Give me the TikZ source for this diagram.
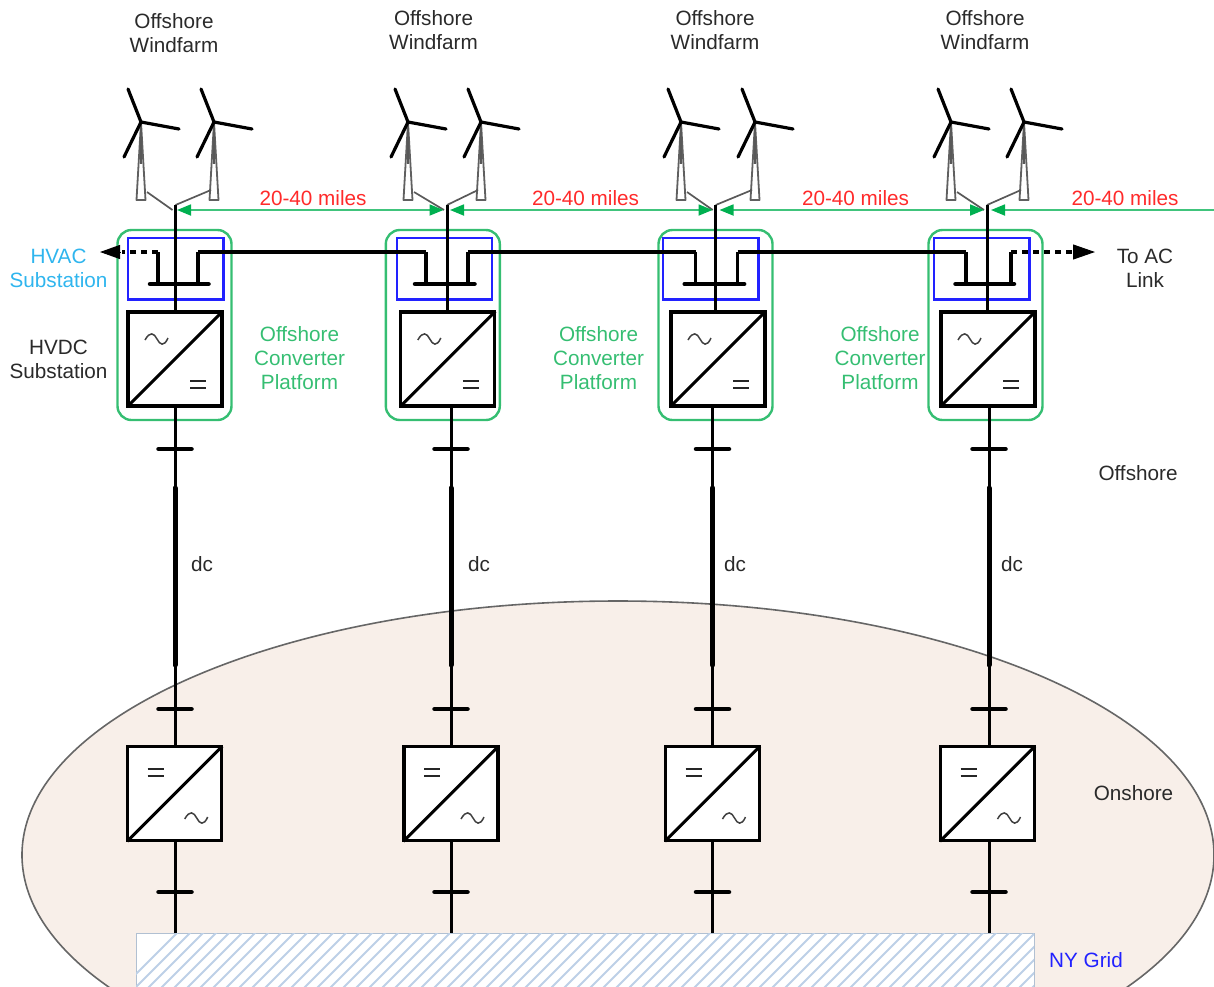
\documentclass[tikz,border=0pt]{standalone}
\usepackage{fontspec}
\setmainfont{Liberation Sans}
\usetikzlibrary{arrows.meta}
\definecolor{gbox}{HTML}{35BE72}
\definecolor{garr}{HTML}{00B050}
\definecolor{redt}{HTML}{FF2A2A}
\definecolor{cyant}{HTML}{2FB5EE}
\definecolor{bluebox}{HTML}{2222FF}
\definecolor{land}{HTML}{F8EFE9}
\definecolor{hatchc}{HTML}{BDD0E7}
\definecolor{txt}{HTML}{2A2A2A}
\tikzset{
  wire/.style={black,line width=3pt},
  busbar/.style={black,line width=4.5pt,line cap=round},
  cable/.style={black,line width=5pt,line cap=round},
  conv/.style={draw=black,fill=white,line width=3.3pt,minimum width=94pt,minimum height=94pt,inner sep=0pt},
  greenbox/.style={draw=gbox,line width=2.4pt,rounded corners=14pt,minimum width=114pt,minimum height=190pt,inner sep=0pt},
  bluerect/.style={draw=bluebox,line width=2.4pt,minimum width=95.5pt,minimum height=61.5pt,inner sep=0pt},
  lab/.style={font=\fontsize{20.7}{24}\selectfont,align=center,text=txt,inner sep=0pt},
  glab/.style={lab,text=gbox},
  rlab/.style={lab,text=redt},
  tower/.style={draw=gray!75!black,fill=white,line width=1.8pt,line join=round},
  blade/.style={black,line width=3.2pt,line cap=round},
  feeder/.style={gray!70!black,line width=1.7pt},
  span/.style={garr!75!white,line width=1.8pt,-{Triangle[length=14pt,width=11pt,color=garr]}},
  spanb/.style={garr!75!white,line width=1.8pt,{Triangle[length=14pt,width=11pt,color=garr]}-{Triangle[length=14pt,width=11pt,color=garr]}},
  acline/.style={black,line width=3.2pt},
  acdash/.style={black,line width=3.2pt,dash pattern=on 6pt off 5pt},
  conv sym/.style={black,line width=3pt,shorten <=1.5pt,shorten >=1.5pt},
  wave/.style={black!75,line width=1.5pt},
  eqbar/.style={black!85,line width=2.5pt},
}
\newcommand{\turbine}[1]{%
  \begin{scope}[shift={(#1,122)}]
    \draw[tower] (0,0) -- (-4.5,78) -- (4.5,78) -- cycle;
    \draw[gray!70!black,line width=1.6pt] (0,0) -- (0,42);
    \draw[blade] (0,0) -- (-13,-33);
    \draw[blade] (0,0) -- (38,7);
    \draw[blade] (0,0) -- (-17,35);
  \end{scope}}
% #1 id, #2 junction x, #3 green cx, #4 blue cx, #5 upper conv cx, #6 cable x, #7 lower conv cx, #8 turbine1, #9 turbine2
% \SL \SR stem offsets, \BL \BR bar offsets, \DCX dc label x
\newcommand{\column}[9]{%
  \turbine{#8}\turbine{#9}
  \node[greenbox] (g#1) at (#3,325) {};
  \node[bluerect] (b#1) at (#4,268.7) {};
  \coordinate (j#1) at (#2,205);
  \coordinate (ja#1) at (#2-3,210);
  \coordinate (ta#1) at (#8+6,192);
  \coordinate (tb#1) at (#9-3,190);
  \draw[feeder] (ta#1) -- (ja#1);
  \draw[feeder] (tb#1) -- (j#1);
  \node[conv] (uc#1) at (#5,359) {};
  \draw[wire] (j#1) -- (uc#1.north -| j#1);
  \draw[busbar] (#2+\BL,284) -- (#2+\BR,284);
  \coordinate (sl#1) at (#2+\SL,252);
  \coordinate (sr#1) at (#2+\SR,252);
  \draw[acline] (sl#1) -- (#2+\SL,284);
  \draw[acline] (sr#1) -- (#2+\SR,284);
  \draw[conv sym] (uc#1.south west) -- (uc#1.north east);
  \draw[wave] (#5-48+18,340) .. controls (#5-48+23,331) and (#5-48+27,333) .. (#5-48+30,339) .. controls (#5-48+33,345) and (#5-48+37,347) .. (#5-48+41,338);
  \draw[eqbar] (#5+48-33,381) -- (#5+48-17,381) (#5+48-33,388) -- (#5+48-17,388);
  \coordinate (k#1) at (#6,488);
  \coordinate (m#1) at (#6,665);
  \node[conv] (lc#1) at (#7,793.7) {};
  \coordinate (gr#1) at (#6,933);
  \draw[wire] (uc#1.south -| k#1) -- (k#1);
  \draw[cable] (k#1) -- (m#1);
  \draw[wire] (m#1) -- (lc#1.north -| m#1);
  \draw[wire] (lc#1.south -| m#1) -- (gr#1);
  \draw[busbar] (#6-16.5,449) -- (#6+16.5,449);
  \draw[busbar] (#6-16.5,709) -- (#6+16.5,709);
  \draw[busbar] (#6-16.5,892) -- (#6+16.5,892);
  \draw[conv sym] (lc#1.south west) -- (lc#1.north east);
  \draw[eqbar] (#7-48+21,769) -- (#7-48+37,769) (#7-48+21,776) -- (#7-48+37,776);
  \draw[wave] (#7+48-38,819) .. controls (#7+48-33,810) and (#7+48-29,812) .. (#7+48-26,818) .. controls (#7+48-23,824) and (#7+48-19,826) .. (#7+48-15,817);
  \node[lab] (dc#1) at (\DCX,564) {dc};
}
\begin{document}
\begin{tikzpicture}[x=1pt,y=-1pt]
\useasboundingbox (0,0) rectangle (1214,986);
\begin{scope}
\clip (0,0) rectangle (1214,986);
\draw[draw=gray!80!black,fill=land,line width=1.6pt] (618,855) ellipse [x radius=596,y radius=254];
\node[draw=hatchc!80!gray,fill=white,line width=1pt,minimum width=898pt,minimum height=70pt,inner sep=0pt] (grid) at (585,968) {};
\begin{scope}
\clip (136,933) rectangle (1034,986);
\foreach \h in {0,13,...,1000}{\draw[hatchc,line width=2pt] (120+\h,990) -- (120+\h+60,930);}
\end{scope}
\end{scope}
\def\SL{-17.5}\def\SR{22.5}\def\BL{-25.5}\def\BR{33}\def\DCX{202}
\column{1}{175.5}{174.5}{175.8}{175}{175}{174.7}{141}{214}
\def\SL{-21}\def\SR{21}\def\BL{-32}\def\BR{27.5}\def\DCX{479}
\column{2}{447}{442.8}{444.5}{447.8}{451}{451}{408}{481}
\def\SL{-20}\def\SR{22}\def\BL{-31}\def\BR{28.5}\def\DCX{735}
\column{3}{715.7}{715.5}{710.7}{718}{712.5}{712.5}{681}{755}
\def\SL{-21}\def\SR{24}\def\BL{-31.5}\def\BR{27}\def\DCX{1012}
\column{4}{987}{985.5}{981.8}{988}{989}{987.5}{951}{1024}
\coordinate (acl) at (100,252);
\coordinate (acr) at (1095,252);
\draw[acline] (sr1) -- (sl2);
\draw[acline] (sr2) -- (sl3);
\draw[acline] (sr3) -- (sl4);
\draw[acdash] (sl1) -- (122,252);
\draw[black,line width=1pt,-{Triangle[length=20pt,width=14pt]}] (120,252) -- (acl);
\draw[acdash] (sr4) -- (1074,252);
\draw[black,line width=1pt,-{Triangle[length=22pt,width=15pt]}] (1073,252) -- (acr);
\coordinate (e) at (1214,210);
\coordinate (a1) at (177,210); \coordinate (a2) at (443.5,210); \coordinate (a3) at (450,210);
\coordinate (a4) at (712.5,210); \coordinate (a5) at (719.5,210); \coordinate (a6) at (984,210); \coordinate (a7) at (991,210);
\draw[spanb] (a1) -- (a2);
\draw[spanb] (a3) -- (a4);
\draw[spanb] (a5) -- (a6);
\draw[span] (e) -- (a7);
\node[lab] (w1) at (174,33) {Offshore\\Windfarm};
\node[lab] (w2) at (433.5,30) {Offshore\\Windfarm};
\node[lab] (w3) at (715,30) {Offshore\\Windfarm};
\node[lab] (w4) at (985,30) {Offshore\\Windfarm};
\node[rlab] (m1) at (313,198) {20-40 miles};
\node[rlab] (m2) at (585.5,198) {20-40 miles};
\node[rlab] (m3) at (855.5,198) {20-40 miles};
\node[rlab] (m4) at (1125,198) {20-40 miles};
\node[lab,text=cyant] (hvac) at (58.5,268.5) {HVAC\\Substation};
\node[lab] (hvdc) at (58.5,359) {HVDC\\Substation};
\node[lab] (toac) at (1145,268.5) {To AC\\Link};
\node[glab] (p1) at (299.5,358) {Offshore\\Converter\\Platform};
\node[glab] (p2) at (598.5,358) {Offshore\\Converter\\Platform};
\node[glab] (p3) at (880,358) {Offshore\\Converter\\Platform};
\node[lab] (off) at (1138,473) {Offshore};
\node[lab] (on) at (1133.5,793) {Onshore};
\node[lab,text=bluebox] (ny) at (1086,960) {NY Grid};
\end{tikzpicture}
\end{document}
